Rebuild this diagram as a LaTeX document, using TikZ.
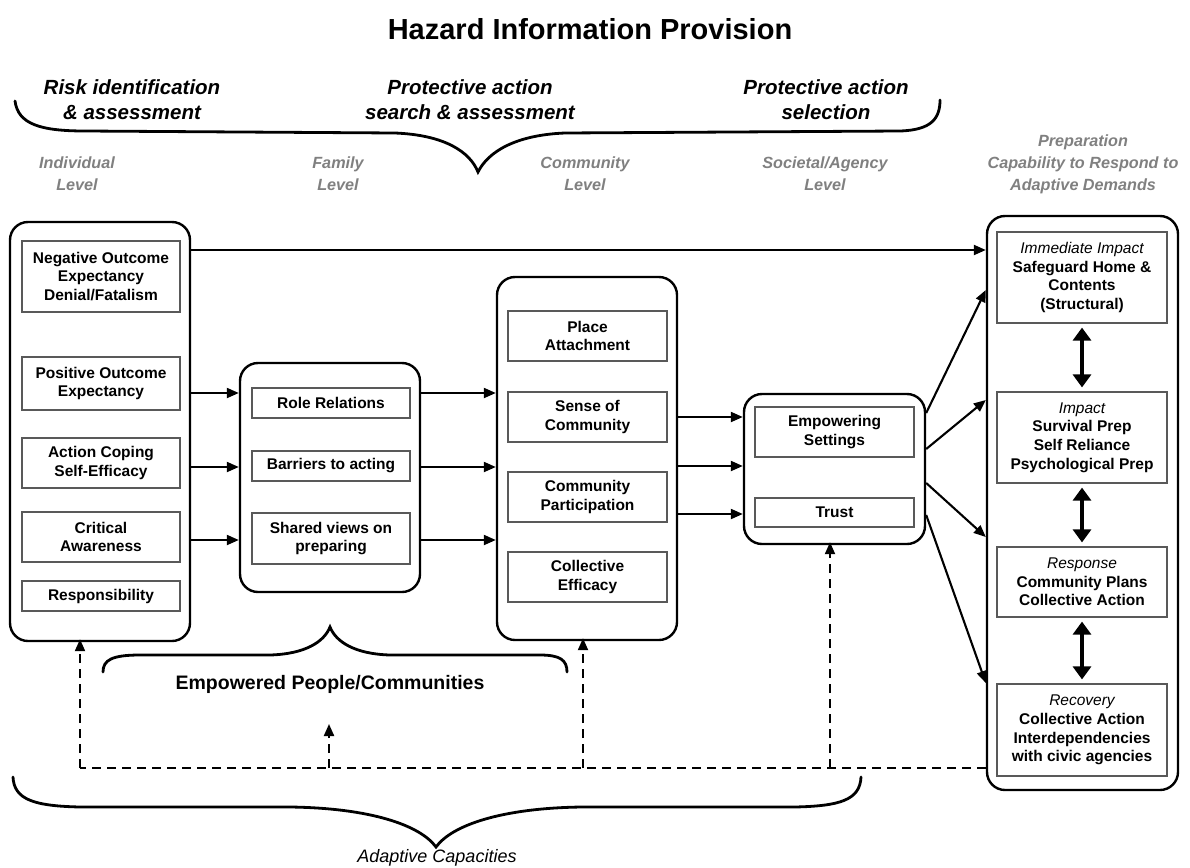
\documentclass[tikz,border=0pt]{standalone}
\usepackage{fontspec}
\setmainfont{Liberation Sans}
\usetikzlibrary{arrows.meta}
\begin{document}
\begin{tikzpicture}[x=1pt,y=-1pt,
  big/.style={draw, line width=2.4pt, rounded corners=18pt, inner sep=0pt},
  inbox/.style={draw=black!65, line width=1.2pt, align=center, inner sep=0pt, font=\bfseries\fontsize{15.5}{18.7}\selectfont},
  arr/.style={line width=2.1pt, -{Triangle[length=12pt,width=10pt]}},
  darr/.style={line width=4.2pt, {Triangle[length=13pt,width=18pt]}-{Triangle[length=13pt,width=18pt]}},
  dasharr/.style={line width=2.1pt, dash pattern=on 9pt off 6pt, -{Triangle[length=12pt,width=10pt]}},
  dline/.style={line width=2.1pt, dash pattern=on 9pt off 6pt},
  brace/.style={line width=2.8pt, line cap=round},
  lvl/.style={font=\bfseries\itshape\fontsize{16.2}{22}\selectfont, text=black!50, align=center},
  phase/.style={font=\bfseries\itshape\fontsize{20.5}{25}\selectfont, align=center},
]
\useasboundingbox (0,0) rectangle (1190,867);

% title
\node[font=\bfseries\fontsize{29}{32}\selectfont] (title) at (590,29) {Hazard Information Provision};

% phases
\node[phase] (ph1) at (132,100) {Risk identification\\\& assessment};
\node[phase] (ph2) at (470,100) {Protective action\\search \& assessment};
\node[phase] (ph3) at (826,100) {Protective action\\selection};

% top brace
\draw[brace] (15,101) .. controls (18,124) and (40,131) .. (85,131)
  -- (395,133) .. controls (445,135) and (470,152) .. (478,172)
  .. controls (488,152) and (515,135) .. (565,133)
  -- (900,131) .. controls (932,130) and (940,118) .. (940,100);

% level labels
\node[lvl] (l1) at (77,174) {Individual\\Level};
\node[lvl] (l2) at (338,174) {Family\\Level};
\node[lvl] (l3) at (585,174) {Community\\Level};
\node[lvl] (l4) at (825,174) {Societal/Agency\\Level};
\node[lvl] (l5) at (1083,164) {Preparation\\Capability to Respond to\\Adaptive Demands};

% left big box
\node[big, minimum width=180, minimum height=419] (left) at (100,431.5) {};
\node[inbox, minimum width=158, minimum height=71] (neg) at (101,276.5) {Negative Outcome\\Expectancy\\Denial/Fatalism};
\node[inbox, minimum width=158, minimum height=53] (pos) at (101,383.5) {Positive Outcome\\Expectancy};
\node[inbox, minimum width=158, minimum height=50] (act) at (101,463) {Action Coping\\Self-Efficacy};
\node[inbox, minimum width=158, minimum height=50] (crit) at (101,537) {Critical\\Awareness};
\node[inbox, minimum width=158, minimum height=30] (resp) at (101,596) {Responsibility};

% family box
\node[big, minimum width=180, minimum height=229] (fam) at (330,477.5) {};
\node[inbox, minimum width=158, minimum height=30] (role) at (331,403) {Role Relations};
\node[inbox, minimum width=158, minimum height=30] (barr) at (331,466) {Barriers to acting};
\node[inbox, minimum width=158, minimum height=51] (shared) at (331,538.5) {Shared views on\\preparing};

% community box
\node[big, minimum width=180, minimum height=363] (com) at (587,458.5) {};
\node[inbox, minimum width=159, minimum height=50] (place) at (587.5,336) {Place\\Attachment};
\node[inbox, minimum width=159, minimum height=50] (sense) at (587.5,417) {Sense of\\Community};
\node[inbox, minimum width=159, minimum height=50] (part) at (587.5,497) {Community\\Participation};
\node[inbox, minimum width=159, minimum height=50] (coll) at (587.5,577) {Collective\\Efficacy};

% societal box
\node[big, minimum width=181, minimum height=150] (soc) at (834.5,469) {};
\node[inbox, minimum width=159, minimum height=50] (emp) at (834.5,432) {Empowering\\Settings};
\node[inbox, minimum width=159, minimum height=29] (trust) at (834.5,512.5) {Trust};

% right box
\node[big, minimum width=191, minimum height=574] (right) at (1082.5,503) {};
\node[inbox, minimum width=170, minimum height=91] (imm) at (1082,277.5) {{\mdseries\itshape Immediate Impact}\\Safeguard Home \&\\Contents\\(Structural)};
\node[inbox, minimum width=170, minimum height=91] (imp) at (1082,437.5) {{\mdseries\itshape Impact}\\Survival Prep\\Self Reliance\\Psychological Prep};
\node[inbox, minimum width=170, minimum height=70] (res) at (1082,582) {{\mdseries\itshape Response}\\Community Plans\\Collective Action};
\node[inbox, minimum width=170, minimum height=92] (rec) at (1082,730) {{\mdseries\itshape Recovery}\\Collective Action\\Interdependencies\\with civic agencies};

% double arrows
\draw[darr] ([yshift=-4pt]imm.south) -- ([yshift=4pt]imp.north);
\draw[darr] ([yshift=-4pt]imp.south) -- ([yshift=4pt]res.north);
\draw[darr] ([yshift=-4pt]res.south) -- ([yshift=4pt]rec.north);

% horizontal arrows
\coordinate (yt) at (0,250);
\draw[arr] (left.east |- yt) -- (right.west |- yt);
\coordinate (ya) at (0,393);
\coordinate (yb) at (0,467);
\coordinate (yc) at (0,540);
\draw[arr] (left.east |- ya) -- (fam.west |- ya);
\draw[arr] (left.east |- yb) -- (fam.west |- yb);
\draw[arr] (left.east |- yc) -- (fam.west |- yc);
\draw[arr] (fam.east |- ya) -- (com.west |- ya);
\draw[arr] (fam.east |- yb) -- (com.west |- yb);
\draw[arr] (fam.east |- yc) -- (com.west |- yc);
\coordinate (yd) at (0,417);
\coordinate (ye) at (0,466);
\coordinate (yf) at (0,514);
\draw[arr] (com.east |- yd) -- (soc.west |- yd);
\draw[arr] (com.east |- ye) -- (soc.west |- ye);
\draw[arr] (com.east |- yf) -- (soc.west |- yf);

% fan out from societal
\coordinate (s1) at (0,413);
\coordinate (s2) at (0,449);
\coordinate (s3) at (0,483);
\coordinate (s4) at (0,515);
\coordinate (r1) at (0,290);
\coordinate (r2) at (0,400);
\coordinate (r3) at (0,537);
\coordinate (r4) at (0,683);
\draw[arr] (soc.east |- s1) -- (right.west |- r1);
\draw[arr] (soc.east |- s2) -- (right.west |- r2);
\draw[arr] (soc.east |- s3) -- (right.west |- r3);
\draw[arr] (soc.east |- s4) -- (right.west |- r4);

% dashed feedback
\coordinate (d0) at (80,768);
\coordinate (d1) at (329,768);
\coordinate (d2) at (583,768);
\coordinate (d3) at (830,768);
\coordinate (d1t) at (329,724);
\draw[dline] (right.west |- d0) -- (d0);
\draw[dasharr] (d0) -- ([yshift=3pt]left.south -| d0);
\draw[dasharr] (d1) -- (d1t);
\draw[dasharr] (d2) -- ([yshift=3pt]com.south -| d2);
\draw[dasharr] (d3) -- ([yshift=3pt]soc.south -| d3);

% empowered brace
\draw[brace] (103,672) .. controls (103,660) and (112,655) .. (140,655)
  -- (270,655) .. controls (305,654) and (324,642) .. (330,627)
  .. controls (336,642) and (355,654) .. (390,655)
  -- (540,655) .. controls (560,655) and (567,660) .. (567,672);
\node[font=\bfseries\fontsize{19.5}{21}\selectfont] (empp) at (330,684) {Empowered People/Communities};

% bottom brace
\draw[brace] (13,777) .. controls (14,800) and (35,806) .. (80,807)
  -- (290,807) .. controls (370,808) and (420,825) .. (436,847)
  .. controls (452,825) and (502,808) .. (582,807)
  -- (795,807) .. controls (840,806) and (860,800) .. (861,777);
\node[font=\itshape\fontsize{18}{20}\selectfont] (adapt) at (437,858) {Adaptive Capacities};

\end{tikzpicture}
\end{document}
